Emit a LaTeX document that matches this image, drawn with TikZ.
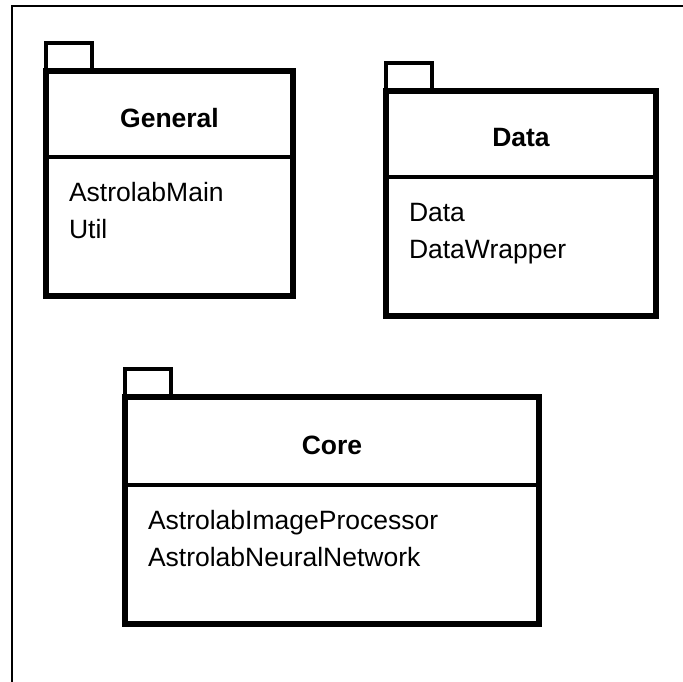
\documentclass[tikz,border=0pt]{standalone}
\usepackage{fontspec}
\setmainfont{Liberation Sans}
\usetikzlibrary{positioning}

\begin{document}
\begin{tikzpicture}[
x=1pt, y=-1pt,
every node/.style={inner sep=0, outer sep=0},
pkghead/.style={anchor=north west},
pkglist/.style={minimum height=139pt},
pkgtab/.style={draw, line width=4.5pt, minimum width=46pt, minimum height=28pt},
pkgline/.style={line width=5.5pt},
divline/.style={line width=3.5pt},
pkgtitle/.style={font=\fontsize{26.5}{32}\selectfont\bfseries},
pkgitem/.style={font=\fontsize{26.5}{32}\selectfont, anchor=base west}
]
\useasboundingbox (0,0) rectangle (683,682);
% Frame
\coordinate (frame-tr) at (690,6);
\coordinate (frame-tl) at (12,6);
\coordinate (frame-bl) at (12,690);
\draw[line width=2pt] (frame-tr) -- (frame-tl) -- (frame-bl);
% Packages
\foreach \n/\x/\y/\w/\h/\ttl in {general/46/71/247/86/General, data/386/91/270/86/Data, core/125/397/414/88/Core}{
    \node[pkghead, minimum width=\w pt, minimum height=\h pt] (\n) at (\x,\y) {};
    \node[pkglist, minimum width=\w pt, below=0pt of \n] (\n-list) {};
    \node[pkgtab, above right=0pt of \n.north west] (\n-tab) {};
    \draw[pkgline] (\n.north west) rectangle (\n-list.south east);
    \draw[divline] (\n.south west) -- (\n.south east);
    \node[pkgtitle, yshift=-4pt] (\n-title) at (\n.center) {\ttl};
}
% Classes
\foreach \t [count=\k from 0] in {AstrolabMain,Util}
    \node[pkgitem] (general-\k) at ([shift={(23,44+37*\k)}]general-list.north west) {\t};
\foreach \t [count=\k from 0] in {Data,DataWrapper}
    \node[pkgitem] (data-\k) at ([shift={(23,44+37*\k)}]data-list.north west) {\t};
\foreach \t [count=\k from 0] in {AstrolabImageProcessor,AstrolabNeuralNetwork}
    \node[pkgitem] (core-\k) at ([shift={(23,44+37*\k)}]core-list.north west) {\t};
\end{tikzpicture}
\end{document}
